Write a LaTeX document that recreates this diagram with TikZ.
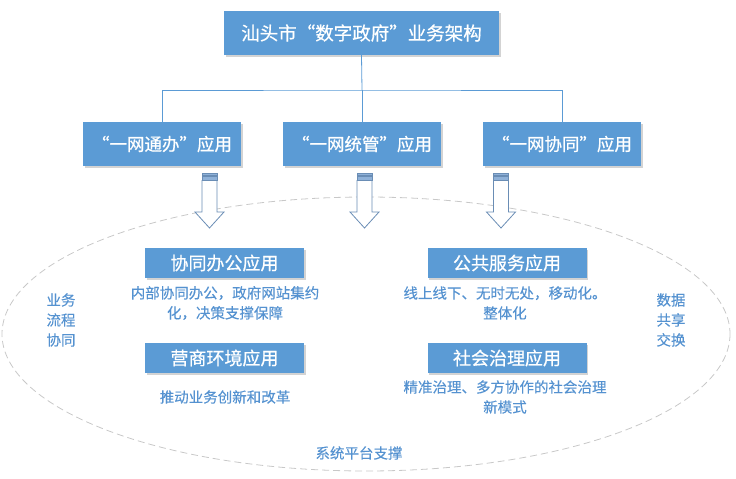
\documentclass[tikz,border=0pt]{standalone}
\usepackage{fontspec}
\setmainfont{Noto Sans CJK SC}
\newfontfamily\boxfont{Noto Sans CJK SC}[FakeBold=0.6]
\newfontfamily\descfont{Noto Sans CJK SC}[FakeBold=0.25]
\usetikzlibrary{shadows}
\definecolor{boxblue}{HTML}{5B9BD5}
\definecolor{txtblue}{HTML}{5592D0}
\definecolor{arrowline}{HTML}{6A8DB5}
\definecolor{stripe}{HTML}{8FB1D8}
\definecolor{ellgray}{HTML}{C8C8C8}
\tikzset{
  bluebox/.style={fill=boxblue, text=white, inner sep=0pt, align=center,
    drop shadow={shadow xshift=1.5pt, shadow yshift=-1.5pt, opacity=0.35, fill=gray}},
  topbox/.style={bluebox, minimum width=275pt, minimum height=44pt, font=\boxfont\fontsize{18.5}{22}\selectfont},
  appbox/.style={bluebox, minimum width=158pt, minimum height=44pt, font=\boxfont\fontsize{17.5}{21}\selectfont},
  subbox/.style={bluebox, minimum width=159pt, minimum height=30pt, font=\boxfont\fontsize{18}{21}\selectfont},
  desc/.style={text=txtblue, align=center, inner sep=0pt, font=\descfont\fontsize{14.5}{20}\selectfont},
  link/.style={draw=boxblue, line width=0.8pt},
  arrowbody/.style={draw=arrowline, fill=white, line width=0.8pt, line join=miter},
  arrowstripe/.style={draw=arrowline, fill=stripe, line width=0.6pt}
}
\newcommand\myhollowarrow[1]{%
  \fill[arrowstripe] (#1-7.5,173) rectangle (#1+7.5,175);
  \fill[arrowstripe] (#1-7.5,176.5) rectangle (#1+7.5,180);
  \draw[arrowbody] (#1-7.5,180.5) -- (#1-7.5,212) -- (#1-14.5,212) -- (#1,228)
    -- (#1+14.5,212) -- (#1+7.5,212) -- (#1+7.5,180.5) -- cycle;
}
\begin{document}
\begin{tikzpicture}[x=1pt,y=-1pt]
\useasboundingbox (0,0) rectangle (736,479);
% ellipse
\draw[ellgray, dash pattern=on 7pt off 4pt, line width=0.8pt] (366,334) ellipse [x radius=364, y radius=137];
% top and app boxes
\node[topbox] (top) at (361.5,33) {汕头市“数字政府”业务架构};
\node[appbox] (a1) at (162,144) {“一网通办”应用};
\node[appbox] (a2) at (362,144) {“一网统管”应用};
\node[appbox] (a3) at (562,144) {“一网协同”应用};
\coordinate (j) at (362,90);
\draw[link] (top.south) -- (j);
\draw[link] (a1.north) |- (j) -| (a3.north);
\draw[link] (j) -- (a2.north);
% arrows
\myhollowarrow{209.5}
\myhollowarrow{364.5}
\myhollowarrow{501}
% inner boxes
\node[subbox] (s1) at (224.5,263) {协同办公应用};
\node[subbox] (s2) at (507,263) {公共服务应用};
\node[subbox] (s3) at (224.5,358) {营商环境应用};
\node[subbox] (s4) at (507,358) {社会治理应用};
% descriptions
\node[desc] (d1) at (225,303) {内部协同办公，政府网站集约\\化，决策支撑保障};
\node[desc] (d2) at (505,303) {线上线下、无时无处，移动化。\\整体化};
\node[desc] (d3) at (225,397) {推动业务创新和改革};
\node[desc] (d4) at (505,397) {精准治理、多方协作的社会治理\\新模式};
\node[desc] (l1) at (61,320) {业务\\流程\\协同};
\node[desc] (r1) at (671,320) {数据\\共享\\交换};
\node[desc] (b1) at (359,453) {系统平台支撑};
\end{tikzpicture}
\end{document}
